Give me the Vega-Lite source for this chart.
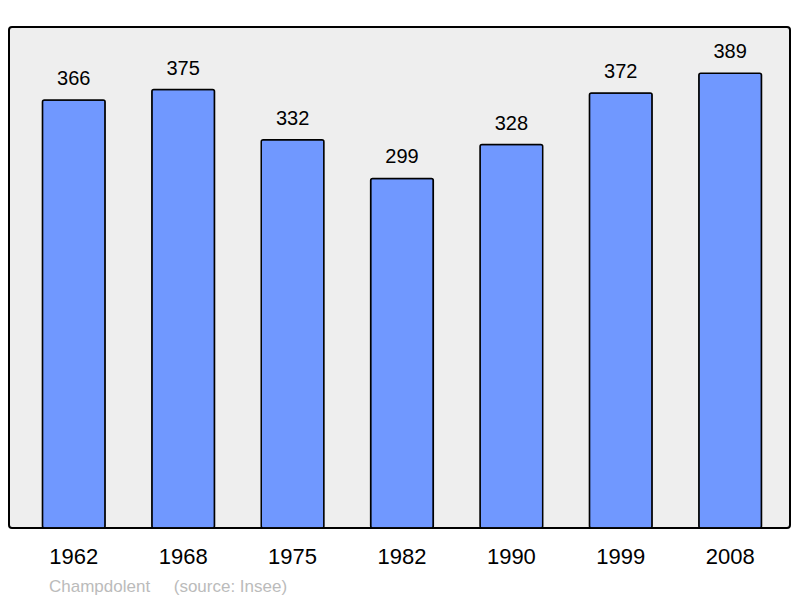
{
  "$schema": "https://vega.github.io/schema/vega-lite/v6.json",
  "width": 781,
  "height": 501,
  "autosize": {"type": "none"},
  "padding": {"left": 9, "top": 27, "right": 10, "bottom": 70},
  "background": "white",
  "config": {
    "view": {"fill": "#eeeeee", "stroke": "#000000", "strokeWidth": 2, "cornerRadius": 3},
    "font": "Liberation Sans"
  },
  "title": {
    "text": "Champdolent\u00a0\u00a0\u00a0\u00a0\u00a0(source: Insee)",
    "orient": "bottom",
    "anchor": "start",
    "font": "Liberation Sans",
    "fontSize": 17,
    "fontWeight": "normal",
    "color": "#bbbbbb",
    "dx": 40,
    "offset": 12
  },
  "data": {
    "values": [
      {"year": "1962", "pop": 366},
      {"year": "1968", "pop": 375},
      {"year": "1975", "pop": 332},
      {"year": "1982", "pop": 299},
      {"year": "1990", "pop": 328},
      {"year": "1999", "pop": 372},
      {"year": "2008", "pop": 389}
    ]
  },
  "encoding": {
    "x": {
      "field": "year",
      "type": "nominal",
      "sort": null,
      "scale": {"paddingInner": 0.427, "paddingOuter": 0.283, "align": 0.54},
      "axis": {
        "title": null,
        "domain": false,
        "ticks": false,
        "grid": false,
        "labelAngle": 0,
        "labelFont": "Liberation Sans",
        "labelFontSize": 22,
        "labelColor": "#000000",
        "labelPadding": 18
      }
    },
    "y": {
      "field": "pop",
      "type": "quantitative",
      "scale": {"domain": [0, 428.5], "nice": false, "zero": true},
      "axis": null
    }
  },
  "layer": [
    {
      "mark": {"type": "bar", "color": "#7098ff", "stroke": "#000000", "strokeWidth": 1.5, "cornerRadius": 2}
    },
    {
      "mark": {"type": "text", "baseline": "bottom", "dy": -11, "font": "Liberation Sans", "fontSize": 20, "color": "#000000"},
      "encoding": {"text": {"field": "pop", "type": "quantitative"}}
    }
  ]
}
